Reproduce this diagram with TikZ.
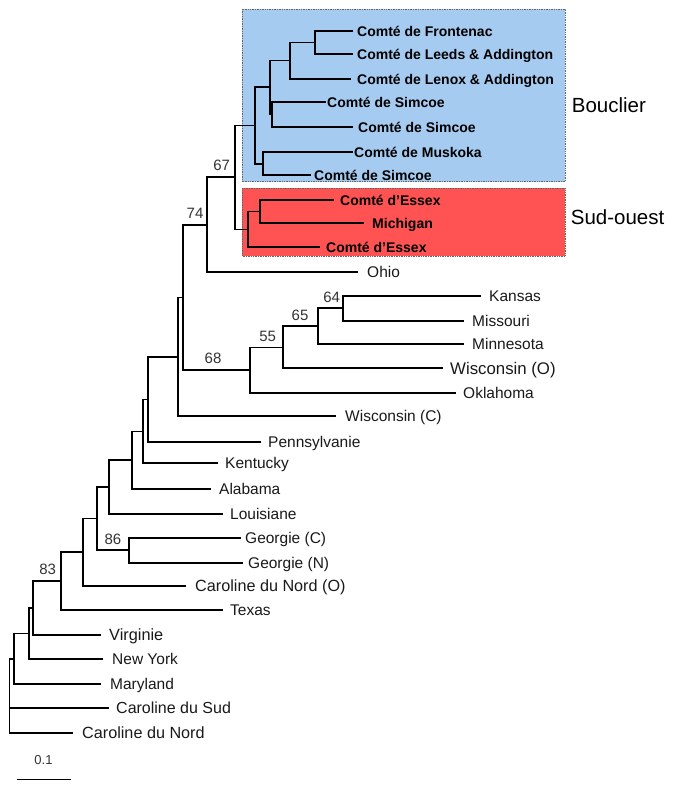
\documentclass[tikz,border=0pt]{standalone}
\usepackage{fontspec}
\setmainfont{Liberation Sans}
\definecolor{blueF}{RGB}{166,203,240}
\definecolor{redF}{RGB}{255,82,82}
\begin{document}
\begin{tikzpicture}[x=1pt,y=-1pt,
  br/.style={line width=1.9pt, line join=miter, line cap=rect},
  lf/.style={anchor=west, inner sep=0pt, text height=11.1pt, text depth=0pt, font=\fontsize{15.5}{18}\selectfont, text=black!90},
  lfb/.style={anchor=west, inner sep=0pt, text height=10pt, text depth=0pt, font=\bfseries\fontsize{14}{16}\selectfont},
  bs/.style={inner sep=0pt, text height=10.7pt, text depth=0pt, font=\fontsize{15}{17}\selectfont, text=black!80},
  grp/.style={anchor=west, inner sep=0pt, text height=14.7pt, text depth=0pt, font=\fontsize{20.5}{24}\selectfont},
  grpbox/.style={draw=black!60, densely dotted, line width=0.7pt}
]
\useasboundingbox (0,0) rectangle (678,790);

% group boxes
\path[grpbox, fill=blueF] (242.3,9) rectangle (565,181.7);
\path[grpbox, fill=redF] (242.3,188.3) rectangle (565,256);

% internal nodes
\coordinate (root) at (9.5,696);
\coordinate (n14) at (14,658.7);
\coordinate (n29) at (29.3,633.5);
\coordinate (n33) at (33.3,608);
\coordinate (n60) at (60.7,581);
\coordinate (n83) at (82.7,552);
\coordinate (n97) at (96.7,518.5);
\coordinate (n86) at (129.3,550.3);
\coordinate (n109) at (109,487);
\coordinate (n131) at (131.7,460);
\coordinate (n143) at (143,431.5);
\coordinate (n148) at (148.3,399.5);
\coordinate (n177) at (177.7,356.7);
\coordinate (n183) at (183.3,297.5);
\coordinate (n207) at (206.7,225);
\coordinate (n235) at (235,177);
\coordinate (n248) at (248,229.5);
\coordinate (n260) at (260,211.5);
\coordinate (n255) at (255,125.5);
\coordinate (n263) at (263,164);
\coordinate (n270) at (270,87);
\coordinate (n272) at (272,114.5);
\coordinate (n290) at (290,60.5);
\coordinate (n315) at (315,42.5);
\coordinate (n250) at (250,370);
\coordinate (n283) at (283,347.5);
\coordinate (n318) at (318,326);
\coordinate (n343) at (343,308);

% leaf tips and labels
\coordinate (tFro) at (352,31);   \node[lfb] (lFro) at (357,31) {Comté de Frontenac};
\coordinate (tLee) at (352,54);   \node[lfb] (lLee) at (357,54) {Comté de Leeds \& Addington};
\coordinate (tLen) at (350,79);   \node[lfb] (lLen) at (357,79) {Comté de Lenox \& Addington};
\coordinate (tSi1) at (325,102);  \node[lfb] (lSi1) at (327,102) {Comté de Simcoe};
\coordinate (tSi2) at (352,127);  \node[lfb] (lSi2) at (358,127) {Comté de Simcoe};
\coordinate (tMus) at (352,152);  \node[lfb] (lMus) at (354,152) {Comté de Muskoka};
\coordinate (tSi3) at (310,175);  \node[lfb] (lSi3) at (314,175) {Comté de Simcoe};
\coordinate (tEs1) at (333,200);  \node[lfb] (lEs1) at (340,200) {Comté d’Essex};
\coordinate (tMic) at (363,223);  \node[lfb] (lMic) at (372,223) {Michigan};
\coordinate (tEs2) at (319,247);  \node[lfb] (lEs2) at (326,247) {Comté d’Essex};
\coordinate (tOhi) at (357,272);  \node[lf] (lOhi) at (367,272) {Ohio};
\coordinate (tKan) at (480,296);  \node[lf] (lKan) at (489,296) {Kansas};
\coordinate (tMis) at (463,320.7);\node[lf] (lMis) at (472,320.7) {Missouri};
\coordinate (tMin) at (463,344);  \node[lf] (lMin) at (472,344) {Minnesota};
\coordinate (tWO) at (442,368);   \node[lf, font=\fontsize{16.8}{19}\selectfont, text height=12pt] (lWO) at (450,368) {Wisconsin (O)};
\coordinate (tOkl) at (455,393);  \node[lf] (lOkl) at (463,393) {Oklahoma};
\coordinate (tWC) at (335,416);   \node[lf] (lWC) at (345,416) {Wisconsin (C)};
\coordinate (tPen) at (260,442);  \node[lf] (lPen) at (268,442) {Pennsylvanie};
\coordinate (tKen) at (217,463.3);\node[lf] (lKen) at (225,463.3) {Kentucky};
\coordinate (tAla) at (210,489);  \node[lf] (lAla) at (219,489) {Alabama};
\coordinate (tLou) at (222,514);  \node[lf] (lLou) at (230,514) {Louisiane};
\coordinate (tGC) at (240,538);   \node[lf] (lGC) at (245,538) {Georgie (C)};
\coordinate (tGN) at (242,562.7); \node[lf] (lGN) at (248,562.7) {Georgie (N)};
\coordinate (tCNO) at (185,586);  \node[lf, font=\fontsize{16.2}{19}\selectfont] (lCNO) at (195,586) {Caroline du Nord (O)};
\coordinate (tTex) at (222,610);  \node[lf] (lTex) at (230,610) {Texas};
\coordinate (tVir) at (100,635);  \node[lf, font=\fontsize{16.3}{19}\selectfont] (lVir) at (109,635) {Virginie};
\coordinate (tNY) at (102,659);   \node[lf] (lNY) at (112,659) {New York};
\coordinate (tMd) at (100,684);   \node[lf] (lMd) at (110,684) {Maryland};
\coordinate (tCdS) at (108,708);  \node[lf, font=\fontsize{16}{19}\selectfont] (lCdS) at (116,708) {Caroline du Sud};
\coordinate (tCdN) at (72,733);   \node[lf, font=\fontsize{16.2}{19}\selectfont] (lCdN) at (82,733) {Caroline du Nord};

% branches
\foreach \p/\c in {root/n14, root/tCdS, root/tCdN,
  n14/n29, n14/tMd, n29/n33, n29/tNY, n33/n60, n33/tVir,
  n60/n83, n60/tTex, n83/n97, n83/tCNO, n97/n109, n97/n86,
  n86/tGC, n86/tGN, n109/n131, n109/tLou, n131/n143, n131/tAla,
  n143/n148, n143/tKen, n148/n177, n148/tPen, n177/n183, n177/tWC,
  n183/n207, n183/n250, n207/n235, n207/tOhi, n235/n255, n235/n248,
  n248/n260, n248/tEs2, n260/tEs1, n260/tMic, n255/n270, n255/n263,
  n263/tMus, n263/tSi3, n270/n290, n270/n272, n272/tSi1, n272/tSi2,
  n290/n315, n290/tLen, n315/tFro, n315/tLee,
  n250/n283, n250/tOkl, n283/n318, n283/tWO, n318/n343, n318/tMin,
  n343/tKan, n343/tMis}
  \draw[br] (\p) |- (\c);

% bootstrap values
\node[bs] (b67) at (221.7,165) {67};
\node[bs] (b74) at (195,213) {74};
\node[bs] (b68) at (213,358) {68};
\node[bs] (b55) at (267.7,335.7) {55};
\node[bs] (b65) at (300,315) {65};
\node[bs] (b64) at (331.7,296.7) {64};
\node[bs] (b86) at (113,539) {86};
\node[bs] (b83) at (47.7,569) {83};

% group labels
\node[grp] (gB) at (571.7,105) {Bouclier};
\node[grp] (gS) at (570.7,217) {Sud-ouest};

% scale bar
\coordinate (sb1) at (16.7,779.5);
\coordinate (sb2) at (71,779.5);
\draw[line width=1.2pt] (sb1) -- (sb2);
\node[bs, font=\fontsize{13}{15}\selectfont, text height=9.3pt] (sbl) at (43.5,759.5) {0.1};
\end{tikzpicture}
\end{document}
